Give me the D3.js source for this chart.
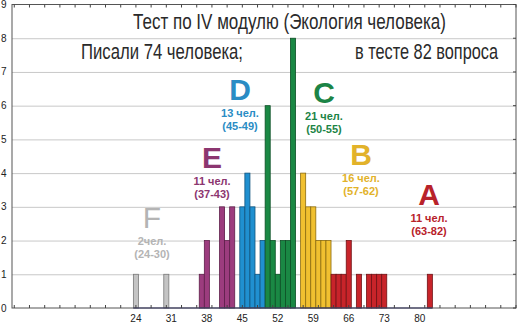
<!DOCTYPE html>
<html>
<head>
	<meta charset="utf-8">
	<title>Тест по IV модулю</title>
	<script src="https://d3js.org/d3.v7.min.js"></script>
	<style>
		body { margin: 0; background: #fff; }
		text { font-family: "Liberation Sans", Arial, sans-serif; }
	</style>
</head>
<body>
	<script>
		var width = 520, height = 323;

		// scores (one bin per score) and number of students
		var scores = [24, 30, 37, 38, 41, 42, 43, 45, 46, 47, 48, 49, 50, 51, 52, 53, 54, 55,
			57, 58, 59, 60, 61, 62, 63, 64, 65, 66, 68, 70, 71, 72, 73, 82];
		var counts = [1, 1, 1, 2, 3, 2, 3, 3, 4, 3, 1, 2, 6, 2, 1, 2, 2, 8,
			4, 3, 3, 2, 2, 2, 1, 1, 1, 2, 1, 1, 1, 1, 1, 1];

		// grades: letter, lower score, upper score, people, colour
		var grades = ["F", "E", "D", "C", "B", "A"];
		var gradeFrom = [24, 37, 45, 50, 57, 63];
		var gradeTo = [30, 43, 49, 55, 62, 82];
		var gradeCount = [2, 11, 13, 21, 16, 11];
		var gradeFill = ["#c4c4c4", "#9c3c7e", "#2090d0", "#1a8844", "#f0c030", "#c8242a"];
		var gradeStroke = ["#7a7a7a", "#5e1f4a", "#10547e", "#0c4f25", "#8c6c10", "#701216"];
		var gradeText = ["#b4b4b4", "#8c3670", "#2a8cc4", "#1c8446", "#e2b22a", "#b8222a"];

		var xTickLabels = [24, 31, 38, 45, 52, 59, 66, 73, 80];
		var yTickLabels = [0, 1, 2, 3, 4, 5, 6, 7, 8, 9];

		var x = d3.scaleLinear().domain([-0.45, 99]).range([12, 516]);
		var y = d3.scaleLinear().domain([0, 9]).range([308, 4.5]);
		var unit = x(1) - x(0);

		function gradeOf(s) {
			for (var i = 0; i < grades.length; i++) if (s >= gradeFrom[i] && s <= gradeTo[i]) return i;
			return 0;
		}

		var svg = d3.select("body").append("svg").attr("width", width).attr("height", height);

		// gridlines
		svg.append("g").selectAll("line").data(yTickLabels.slice(1, 9)).enter().append("line")
			.attr("x1", x.range()[0]).attr("x2", x.range()[1])
			.attr("y1", function(d){ return y(d) + 0.5; }).attr("y2", function(d){ return y(d) + 0.5; })
			.attr("stroke", "#c8c8c8").attr("stroke-width", 1);

		// bars
		svg.append("g").selectAll("rect").data(scores).enter().append("rect")
			.attr("x", function(d){ return x(d - 0.5); })
			.attr("width", unit)
			.attr("y", function(d, i){ return y(counts[i]); })
			.attr("height", function(d, i){ return y(0) - y(counts[i]); })
			.attr("fill", function(d){ return gradeFill[gradeOf(d)]; })
			.attr("stroke", function(d){ return gradeStroke[gradeOf(d)]; })
			.attr("stroke-width", 0.8);

		// histogram baseline
		svg.append("line")
			.attr("x1", x(23.5)).attr("x2", x(82.5)).attr("y1", y(0)).attr("y2", y(0))
			.attr("stroke", "#1a1a70").attr("stroke-width", 1.2);

		// frame
		svg.append("rect")
			.attr("x", x.range()[0]).attr("y", y(9))
			.attr("width", x.range()[1] - x.range()[0]).attr("height", y(0) - y(9))
			.attr("fill", "none").attr("stroke", "#555").attr("stroke-width", 1);

		// inner ticks
		var xt = d3.range(0, 100, 3);
		svg.append("g").selectAll("line").data(xt).enter().append("line")
			.attr("x1", function(d){ return x(d); }).attr("x2", function(d){ return x(d); })
			.attr("y1", y(0)).attr("y2", y(0) - 3).attr("stroke", "#444");
		svg.append("g").selectAll("line").data(xt).enter().append("line")
			.attr("x1", function(d){ return x(d); }).attr("x2", function(d){ return x(d); })
			.attr("y1", y(9)).attr("y2", y(9) + 3).attr("stroke", "#444");
		svg.append("g").selectAll("line").data(yTickLabels).enter().append("line")
			.attr("x1", x.range()[1]).attr("x2", x.range()[1] - 3)
			.attr("y1", function(d){ return y(d); }).attr("y2", function(d){ return y(d); })
			.attr("stroke", "#444");

		// tick labels
		svg.append("g").selectAll("text").data(yTickLabels).enter().append("text")
			.attr("x", 1).attr("y", function(d){ return y(d) + 3.5; })
			.attr("font-size", 10).attr("fill", "#222").text(function(d){ return d; });
		svg.append("g").selectAll("text").data(xTickLabels).enter().append("text")
			.attr("x", function(d){ return x(d); }).attr("y", 322)
			.attr("text-anchor", "middle").attr("font-size", 10).attr("fill", "#222")
			.text(function(d){ return d; });

		// titles (condensed via textLength, no narrow font installed)
		svg.append("text").attr("x", 133).attr("y", 29)
			.attr("textLength", 313).attr("lengthAdjust", "spacingAndGlyphs")
			.attr("font-size", 22).attr("fill", "#2a2a2a")
			.text("Тест по IV модулю (Экология человека)");
		svg.append("text").attr("x", 81).attr("y", 59)
			.attr("textLength", 162).attr("lengthAdjust", "spacingAndGlyphs")
			.attr("font-size", 22).attr("fill", "#2a2a2a").text("Писали 74 человека;");
		svg.append("text").attr("x", 355).attr("y", 59)
			.attr("textLength", 143).attr("lengthAdjust", "spacingAndGlyphs")
			.attr("font-size", 22).attr("fill", "#2a2a2a").text("в тесте 82 вопроса");

		// grade annotations
		var letterX = [152, 212, 240, 324, 361, 429];
		var letterY = [228, 168, 100, 103, 165, 205];
		var g = svg.append("g").selectAll("g").data(grades).enter().append("g");
		g.append("text")
			.attr("x", function(d, i){ return letterX[i]; }).attr("y", function(d, i){ return letterY[i]; })
			.attr("text-anchor", "middle").attr("font-size", 30).attr("font-weight", function(d){ return d == "F" ? "normal" : "bold"; })
			.attr("fill", function(d, i){ return gradeText[i]; }).text(function(d){ return d; });
		g.append("text")
			.attr("x", function(d, i){ return letterX[i]; }).attr("y", function(d, i){ return letterY[i] + 17; })
			.attr("text-anchor", "middle").attr("font-size", 11).attr("font-weight", "bold")
			.attr("fill", function(d, i){ return gradeText[i]; })
			.text(function(d, i){ return gradeCount[i] + (d == "F" ? "чел." : " чел."); });
		g.append("text")
			.attr("x", function(d, i){ return letterX[i]; }).attr("y", function(d, i){ return letterY[i] + 30; })
			.attr("text-anchor", "middle").attr("font-size", 11).attr("font-weight", "bold")
			.attr("fill", function(d, i){ return gradeText[i]; })
			.text(function(d, i){ return "(" + gradeFrom[i] + "-" + gradeTo[i] + ")"; });
	</script>
</body>
</html>
